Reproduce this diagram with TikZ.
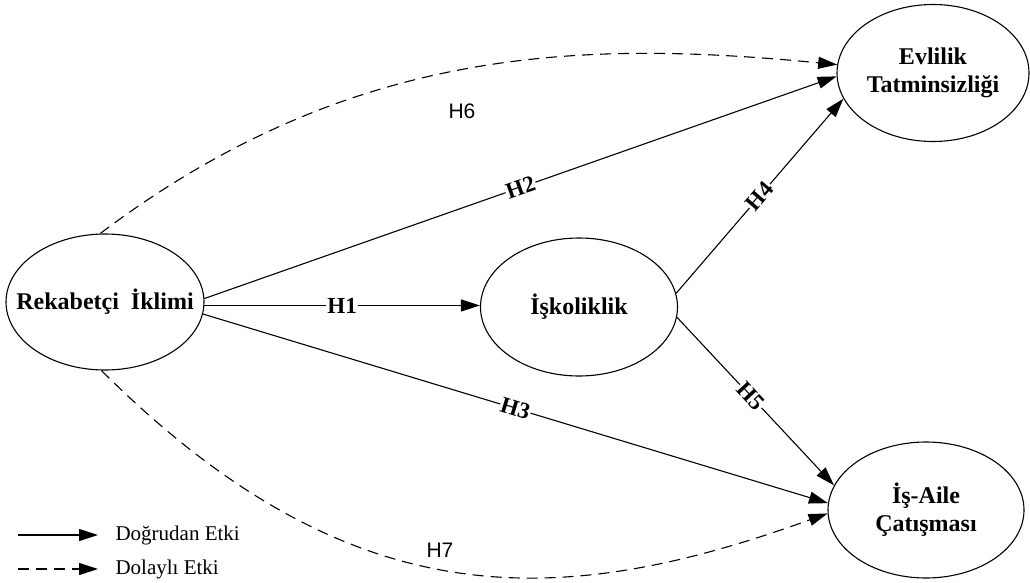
\documentclass[tikz,border=0pt]{standalone}
\usepackage{fontspec}
\setmainfont{Liberation Serif}
\newfontfamily\hsans{Liberation Sans}
\usetikzlibrary{shapes.geometric,arrows.meta}
\begin{document}
\begin{tikzpicture}[x=1pt,y=-1pt,
  constr/.style={ellipse,draw,line width=1.1pt,inner sep=0pt},
  ctext/.style={font=\fontsize{24}{28}\selectfont\bfseries,align=center,inner sep=0pt},
  direct/.style={line width=1.1pt,-{Triangle[length=19pt,width=12pt]}},
  indirect/.style={direct,dash pattern=on 11pt off 7pt},
  hlab/.style={fill=white,inner sep=1pt,font=\fontsize{23}{23}\selectfont\bfseries,sloped},
  slab/.style={font=\hsans\fontsize{21}{21}\selectfont},
  legtext/.style={anchor=west,font=\fontsize{21}{21}\selectfont}]
\useasboundingbox (0,0) rectangle (1030,583);
\node[constr,minimum width=198pt,minimum height=136pt,label={[ctext]center:Rekabetçi\ \ İklimi}] (R) at (105,302) {};
\node[constr,minimum width=197pt,minimum height=138pt,label={[ctext]center:İşkoliklik}] (I) at (579,307) {};
\node[constr,minimum width=192pt,minimum height=137pt,label={[ctext]center:Evlilik\\Tatminsizliği}] (E) at (933,73) {};
\node[constr,minimum width=196pt,minimum height=136pt,label={[ctext]center:İş-Aile\\Çatışması}] (A) at (926,510) {};
% direct effects
\draw[direct] (R.-2) -- node[hlab,pos=.5]{H1} (R.-2 -| I.west);
\draw[direct] (R.2) -- node[hlab,pos=.5]{H2} (E.182);
\draw[direct] (R.-7.5) -- node[hlab,pos=.5]{H3} (A.176);
\draw[direct] (I.8.3) -- node[hlab,pos=.5]{H4} (E.196.7);
\draw[direct] (I.-6.4) -- node[hlab,pos=.47]{H5} (A.165);
% indirect effects
\draw[indirect] (R.94) .. controls (350,45) and (583,40) .. (E.175);
\draw[indirect] (R.267.5) .. controls (352,620) and (560,610) .. (A.182);
\node[slab] (h6) at (462,111) {H6};
\node[slab] (h7) at (440,550) {H7};
% legend
\coordinate (l1s) at (18,535);
\coordinate (l1e) at (98,535);
\coordinate (l2s) at (18,569);
\coordinate (l2e) at (98,569);
\draw[direct] (l1s) -- (l1e);
\draw[indirect] (l2s) -- (l2e);
\node[legtext] (t1) at (112,535) {Doğrudan Etki};
\node[legtext] (t2) at (112,569) {Dolaylı Etki};
\end{tikzpicture}
\end{document}
